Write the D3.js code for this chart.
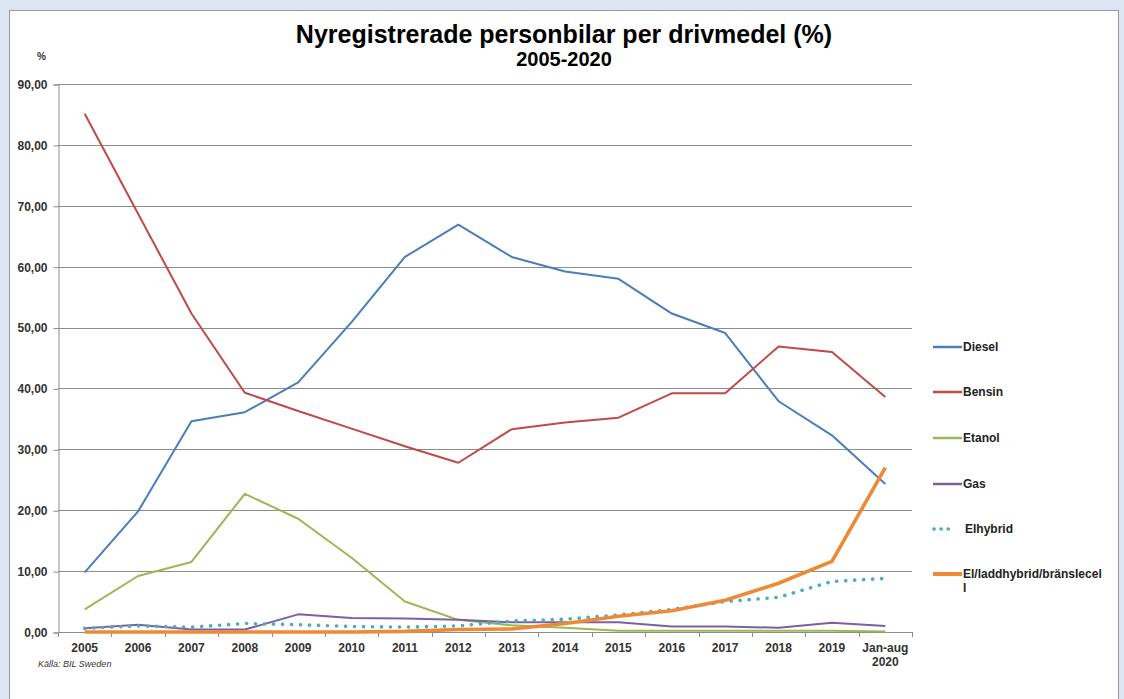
<!DOCTYPE html>
<html>
<head>
<meta charset="utf-8">
<script src="https://cdn.jsdelivr.net/npm/d3@7"></script>
<style>
  body { margin: 0; background: #dce6f2; }
  svg { display: block; font-family: "Liberation Sans", Arial, sans-serif; }
</style>
</head>
<body>
<div id="chart"></div>
<script>
// categories and values (% of new registrations)
const years = ["2005", "2006", "2007", "2008", "2009", "2010", "2011", "2012",
  "2013", "2014", "2015", "2016", "2017", "2018", "2019", "Jan-aug\n2020"];

const diesel = [9.8, 19.8, 34.6, 36.1, 41.0, 50.9, 61.6, 66.9, 61.6, 59.2, 58.0, 52.3, 49.1, 37.9, 32.3, 24.3];
const bensin = [85.1, 68.7, 52.3, 39.3, 36.3, 33.4, 30.5, 27.8, 33.3, 34.4, 35.2, 39.2, 39.2, 46.9, 46.0, 38.6];
const etanol = [3.7, 9.2, 11.5, 22.7, 18.6, 12.2, 5.0, 2.0, 1.1, 0.7, 0.2, 0.2, 0.2, 0.2, 0.2, 0.1];
const gas = [0.6, 1.2, 0.4, 0.4, 2.9, 2.3, 2.2, 2.0, 1.6, 1.6, 1.6, 0.9, 0.9, 0.7, 1.5, 1.0];
const elhybrid = [0.6, 1.0, 0.8, 1.4, 1.2, 0.9, 0.8, 1.0, 1.8, 2.1, 2.8, 3.7, 5.0, 5.7, 8.3, 8.8];
const laddbar = [0.0, 0.0, 0.0, 0.0, 0.0, 0.0, 0.1, 0.4, 0.5, 1.4, 2.6, 3.5, 5.2, 8.0, 11.6, 27.0];

const seriesNames = ["Diesel", "Bensin", "Etanol", "Gas", "Elhybrid", "El/laddhybrid/bränslecel\nl"];
const yTicks = [0, 10, 20, 30, 40, 50, 60, 70, 80, 90];

const series = [
  { name: seriesNames[0], values: diesel, color: "#4a7ebb", width: 2 },
  { name: seriesNames[1], values: bensin, color: "#be4b48", width: 2 },
  { name: seriesNames[2], values: etanol, color: "#98b954", width: 2 },
  { name: seriesNames[3], values: gas, color: "#7d60a0", width: 2 },
  { name: seriesNames[4], values: elhybrid, color: "#4bacc6", width: 3.6, dotted: true },
  { name: seriesNames[5], values: laddbar, color: "#ee8a35", width: 3.6 }
];

const W = 1124, H = 699;
const plot = { left: 58, right: 912, top: 84, bottom: 632 };

const svg = d3.select("#chart").append("svg")
  .attr("width", W)
  .attr("height", H);

// chart frame
svg.append("rect")
  .attr("x", 9.5)
  .attr("y", 10.5)
  .attr("width", 1109)
  .attr("height", 700)
  .attr("fill", "#fff")
  .attr("stroke", "#9a9a9a");

const x = d3.scaleBand()
  .domain(years)
  .range([plot.left, plot.right])
  .padding(0);

const y = d3.scaleLinear()
  .domain([0, 90])
  .range([plot.bottom, plot.top]);

const fmt = d => d3.format(".2f")(d).replace(".", ",");

// gridlines
svg.append("g")
  .selectAll("line")
  .data(yTicks.filter(d => d > 0))
  .enter()
  .append("line")
  .attr("x1", plot.left)
  .attr("x2", plot.right)
  .attr("y1", d => Math.round(y(d)) + 0.5)
  .attr("y2", d => Math.round(y(d)) + 0.5)
  .attr("stroke", "#8c8c8c")
  .attr("stroke-width", 1);

// y axis
const yAxis = svg.append("g")
  .attr("transform", `translate(${plot.left + 0.5}, 0.5)`)
  .call(d3.axisLeft(y).tickValues(yTicks).tickSize(5).tickPadding(6).tickFormat(fmt));
yAxis.select(".domain").attr("stroke", "#8c8c8c");
yAxis.selectAll(".tick line").attr("stroke", "#8c8c8c");
yAxis.selectAll(".tick text")
  .attr("fill", "#333")
  .style("font-size", "12px")
  .style("font-weight", "bold")
  .style("font-family", "Liberation Sans, Arial, sans-serif");

// x axis line and ticks at band edges
const xg = svg.append("g");
xg.append("line")
  .attr("x1", plot.left)
  .attr("x2", plot.right)
  .attr("y1", plot.bottom + 0.5)
  .attr("y2", plot.bottom + 0.5)
  .attr("stroke", "#8c8c8c");

const edges = years.map(d => x(d)).concat([plot.right]);
xg.selectAll(".xtick")
  .data(edges)
  .enter()
  .append("line")
  .attr("x1", d => Math.round(d) + 0.5)
  .attr("x2", d => Math.round(d) + 0.5)
  .attr("y1", plot.bottom)
  .attr("y2", plot.bottom + 5)
  .attr("stroke", "#8c8c8c");

xg.selectAll(".xlabel")
  .data(years)
  .enter()
  .append("text")
  .attr("x", d => x(d) + x.bandwidth() / 2)
  .attr("y", plot.bottom + 20)
  .attr("text-anchor", "middle")
  .attr("fill", "#333")
  .style("font-size", "12px")
  .style("font-weight", "bold")
  .selectAll("tspan")
  .data(d => d.split("\n"))
  .enter()
  .append("tspan")
  .attr("x", function() { return d3.select(this.parentNode).attr("x"); })
  .attr("dy", (d, i) => i === 0 ? 0 : 14)
  .text(d => d);

// lines
const line = d3.line()
  .x((d, i) => x(years[i]) + x.bandwidth() / 2)
  .y(d => y(d));

svg.append("g")
  .selectAll("path")
  .data(series)
  .enter()
  .append("path")
  .attr("d", d => line(d.values))
  .attr("fill", "none")
  .attr("stroke", d => d.color)
  .attr("stroke-width", d => d.width)
  .attr("stroke-linejoin", "round")
  .attr("stroke-linecap", d => d.dotted ? "round" : "butt")
  .attr("stroke-dasharray", d => d.dotted ? "0.1,8.9" : null);

// titles
svg.append("text")
  .attr("x", 564)
  .attr("y", 43)
  .attr("text-anchor", "middle")
  .style("font-size", "25px")
  .style("font-weight", "bold")
  .text("Nyregistrerade personbilar per drivmedel (%)");

svg.append("text")
  .attr("x", 564)
  .attr("y", 66)
  .attr("text-anchor", "middle")
  .style("font-size", "20px")
  .style("font-weight", "bold")
  .text("2005-2020");

svg.append("text")
  .attr("x", 37)
  .attr("y", 60)
  .style("font-size", "10px")
  .style("font-weight", "bold")
  .attr("fill", "#333")
  .text("%");

svg.append("text")
  .attr("x", 38)
  .attr("y", 667)
  .style("font-size", "9px")
  .style("font-style", "italic")
  .attr("fill", "#333")
  .text("Källa: BIL Sweden");

// legend
const legendY = [347, 392, 438, 484, 529, 574];
const legend = svg.append("g")
  .selectAll("g")
  .data(series)
  .enter()
  .append("g")
  .attr("transform", (d, i) => `translate(933, ${legendY[i]})`);

legend.append("line")
  .attr("x1", d => d.dotted ? 1 : 0)
  .attr("x2", d => d.dotted ? 20 : 29)
  .attr("y1", 0)
  .attr("y2", 0)
  .attr("stroke", d => d.color)
  .attr("stroke-width", d => d.dotted ? 3.6 : d.width + 0.5)
  .attr("stroke-linecap", d => d.dotted ? "round" : "butt")
  .attr("stroke-dasharray", d => d.dotted ? "0.1,7" : null);

legend.append("text")
  .attr("x", d => d.dotted ? 32 : 30)
  .attr("y", 4)
  .attr("fill", "#222")
  .style("font-size", "12px")
  .style("font-weight", "bold")
  .selectAll("tspan")
  .data(d => d.name.split("\n"))
  .enter()
  .append("tspan")
  .attr("x", function() { return d3.select(this.parentNode).attr("x"); })
  .attr("dy", (d, i) => i === 0 ? 0 : 14)
  .text(d => d);
</script>
</body>
</html>
